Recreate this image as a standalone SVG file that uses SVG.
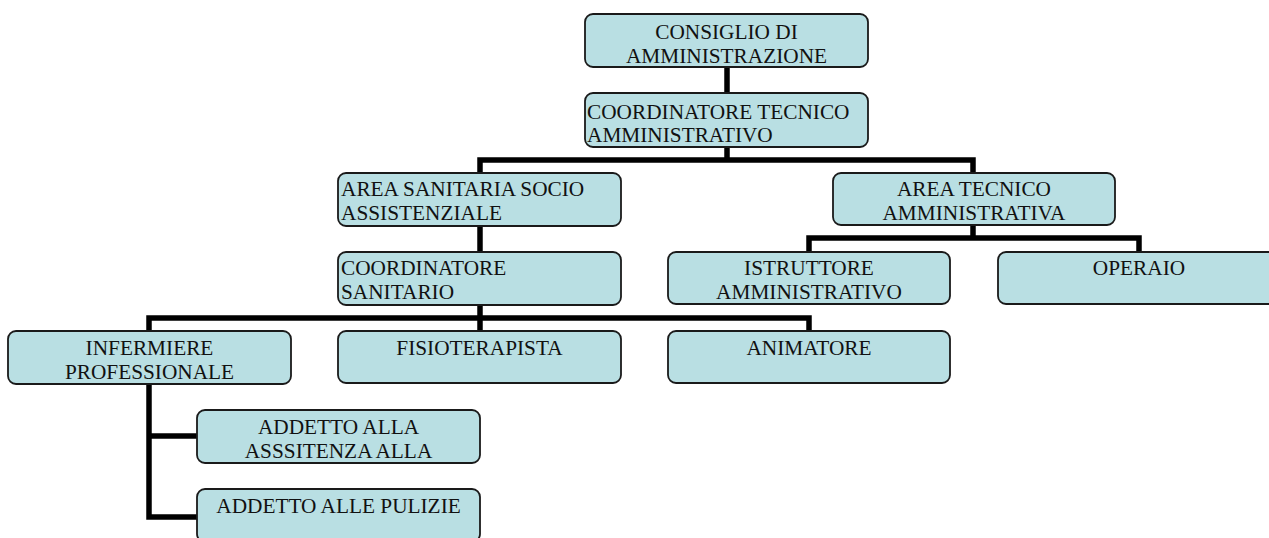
<svg xmlns="http://www.w3.org/2000/svg" width="1269" height="538" viewBox="0 0 1269 538">
<style>
.box{fill:#B9DFE3;stroke:#1a1a1a;stroke-width:1.8}
.t{font-family:"Liberation Serif","Times New Roman",serif;font-size:21.3px;fill:#111}
.c{text-anchor:middle}
.conn{fill:none;stroke:#000;stroke-width:5.5;stroke-linejoin:miter}
</style>
<rect width="1269" height="538" fill="#fff"/>
<g id="connectors">
<path class="conn" d="M727,66 V94"/>
<path class="conn" d="M727,146 V160"/>
<path class="conn" d="M480,174 V160 H973 V174"/>
<path class="conn" d="M480,225 V253"/>
<path class="conn" d="M480,304 V332"/>
<path class="conn" d="M149,332 V318 H809 V332"/>
<path class="conn" d="M973,224 V238"/>
<path class="conn" d="M809,253 V238 H1139 V253"/>
<path class="conn" d="M149,383 V517 H198"/>
<path class="conn" d="M149,436 H198"/>
</g>
<g id="consiglio">
<rect class="box" x="585" y="14" width="283" height="53" rx="8"/>
<text class="t c" x="726.5" y="38.5">CONSIGLIO DI</text>
<text class="t c" x="726.5" y="62.5">AMMINISTRAZIONE</text>
</g>
<g id="coordinatore-tecnico">
<rect class="box" x="585" y="93" width="283" height="54" rx="8"/>
<text class="t" x="587" y="118.5">COORDINATORE TECNICO</text>
<text class="t" x="587" y="142">AMMINISTRATIVO</text>
</g>
<g id="area-sanitaria">
<rect class="box" x="338" y="173" width="283" height="53" rx="8"/>
<text class="t" x="341" y="195.5">AREA SANITARIA SOCIO</text>
<text class="t" x="341" y="220">ASSISTENZIALE</text>
</g>
<g id="area-tecnico">
<rect class="box" x="833" y="173" width="282" height="52" rx="8"/>
<text class="t c" x="974" y="195.5">AREA TECNICO</text>
<text class="t c" x="974" y="220">AMMINISTRATIVA</text>
</g>
<g id="coordinatore-sanitario">
<rect class="box" x="338" y="252" width="283" height="53" rx="8"/>
<text class="t" x="341" y="275">COORDINATORE</text>
<text class="t" x="341" y="299">SANITARIO</text>
</g>
<g id="istruttore">
<rect class="box" x="668" y="252" width="282" height="52" rx="8"/>
<text class="t c" x="809" y="275">ISTRUTTORE</text>
<text class="t c" x="809" y="299">AMMINISTRATIVO</text>
</g>
<g id="operaio">
<rect class="box" x="998" y="252" width="282" height="52" rx="8"/>
<text class="t c" x="1139" y="275">OPERAIO</text>
</g>
<g id="infermiere">
<rect class="box" x="8" y="331" width="283" height="53" rx="8"/>
<text class="t c" x="149.5" y="354.5">INFERMIERE</text>
<text class="t c" x="149.5" y="379">PROFESSIONALE</text>
</g>
<g id="fisioterapista">
<rect class="box" x="338" y="331" width="283" height="52" rx="8"/>
<text class="t c" x="479.5" y="355">FISIOTERAPISTA</text>
</g>
<g id="animatore">
<rect class="box" x="668" y="331" width="282" height="52" rx="8"/>
<text class="t c" x="809" y="355">ANIMATORE</text>
</g>
<g id="addetto-assistenza">
<rect class="box" x="197" y="410" width="283" height="53" rx="8"/>
<text class="t c" x="338.5" y="433.5">ADDETTO ALLA</text>
<text class="t c" x="338.5" y="458">ASSSITENZA ALLA</text>
</g>
<g id="addetto-pulizie">
<rect class="box" x="197" y="489" width="283" height="53" rx="8"/>
<text class="t c" x="338.5" y="513">ADDETTO ALLE PULIZIE</text>
</g>
</svg>
